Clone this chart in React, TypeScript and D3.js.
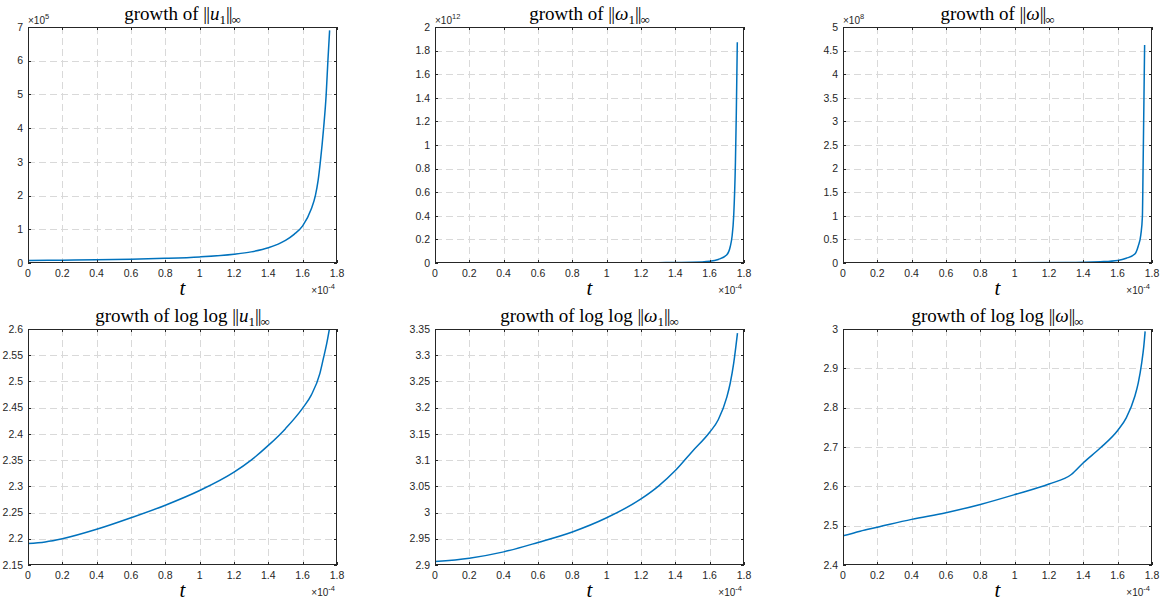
import React from 'react';
import * as d3 from 'd3';

// ---------- data (t in units of 1e-4) ----------
const xTicks = [0, 0.2, 0.4, 0.6, 0.8, 1, 1.2, 1.4, 1.6, 1.8];

// ||u1||_inf (x 1e5)
const tU1 = [0, 0.2, 0.4, 0.6, 0.8, 1.0, 1.2, 1.3, 1.4, 1.5, 1.55, 1.6, 1.65, 1.674, 1.69, 1.703, 1.722, 1.737, 1.747, 1.757];
const vU1 = [0.076, 0.083, 0.095, 0.112, 0.138, 0.18, 0.26, 0.33, 0.45, 0.67, 0.85, 1.1, 1.6, 2.0, 2.45, 3.0, 4.0, 5.0, 6.0, 6.9];
const yTicksU1 = [0, 1, 2, 3, 4, 5, 6, 7];

// ||omega1||_inf (x 1e12)
const tW1 = [0, 0.5, 1.0, 1.3, 1.5, 1.6, 1.65, 1.7, 1.72, 1.73, 1.74, 1.75, 1.755, 1.761];
const vW1 = [0.0001, 0.0003, 0.001, 0.003, 0.0064, 0.015, 0.03, 0.07, 0.14, 0.22, 0.4, 0.85, 1.25, 1.87];
const yTicksW1 = [0, 0.2, 0.4, 0.6, 0.8, 1, 1.2, 1.4, 1.6, 1.8, 2];

// ||omega||_inf (x 1e8)
const tW = [0, 0.5, 1.0, 1.3, 1.5, 1.6, 1.65, 1.7, 1.72, 1.735, 1.744, 1.748, 1.753, 1.757];
const vW = [0.0014, 0.0027, 0.0053, 0.009, 0.028, 0.055, 0.1, 0.19, 0.36, 0.6, 0.98, 2.0, 3.45, 4.62];
const yTicksW = [0, 0.5, 1, 1.5, 2, 2.5, 3, 3.5, 4, 4.5, 5];

// log log ||u1||_inf
const tLU1 = [0, 0.1, 0.2, 0.4, 0.6, 0.8, 1.0, 1.2, 1.3, 1.4, 1.5, 1.6, 1.65, 1.7, 1.72, 1.74, 1.758];
const vLU1 = [2.191, 2.194, 2.200, 2.218, 2.240, 2.264, 2.292, 2.327, 2.350, 2.378, 2.410, 2.449, 2.474, 2.515, 2.543, 2.572, 2.604];
const yTicksLU1 = [2.15, 2.2, 2.25, 2.3, 2.35, 2.4, 2.45, 2.5, 2.55, 2.6];

// log log ||omega1||_inf
const tLW1 = [0, 0.2, 0.4, 0.6, 0.8, 1.0, 1.2, 1.3, 1.4, 1.5, 1.6, 1.65, 1.7, 1.72, 1.74, 1.752, 1.762];
const vLW1 = [2.9065, 2.913, 2.925, 2.943, 2.963, 2.990, 3.026, 3.050, 3.080, 3.117, 3.153, 3.177, 3.220, 3.247, 3.285, 3.315, 3.342];
const yTicksLW1 = [2.9, 2.95, 3, 3.05, 3.1, 3.15, 3.2, 3.25, 3.3, 3.35];

// log log ||omega||_inf
const tLW = [0, 0.1, 0.2, 0.4, 0.6, 0.8, 1.0, 1.2, 1.33, 1.4, 1.5, 1.6, 1.65, 1.7, 1.72, 1.74, 1.752, 1.76];
const vLW = [2.474, 2.486, 2.496, 2.516, 2.533, 2.554, 2.579, 2.606, 2.630, 2.660, 2.698, 2.742, 2.774, 2.829, 2.863, 2.914, 2.955, 2.994];
const yTicksLW = [2.4, 2.5, 2.6, 2.7, 2.8, 2.9, 3];

// ---------- layout ----------
const W = 1169, H = 602;
const colLeft = [28, 435, 843];
const rowTop = [27, 329];
const PW = 309, PH = 236;

const BLUE = '#0072BD';
const AX = '#262626';
const GRID = '#d9d9d9';
const SANS = '"Liberation Sans", Arial, Helvetica, sans-serif';
const SERIF = '"Liberation Serif", "Times New Roman", serif';

type Panel = {
  t: number[]; v: number[]; yTicks: number[]; exp: string | null;
  log: boolean; sym: string; sub: boolean; col: number; row: number;
};

const panels: Panel[] = [
  { t: tU1, v: vU1, yTicks: yTicksU1, exp: '5', log: false, sym: 'u', sub: true, col: 0, row: 0 },
  { t: tW1, v: vW1, yTicks: yTicksW1, exp: '12', log: false, sym: 'ω', sub: true, col: 1, row: 0 },
  { t: tW, v: vW, yTicks: yTicksW, exp: '8', log: false, sym: 'ω', sub: false, col: 2, row: 0 },
  { t: tLU1, v: vLU1, yTicks: yTicksLU1, exp: null, log: true, sym: 'u', sub: true, col: 0, row: 1 },
  { t: tLW1, v: vLW1, yTicks: yTicksLW1, exp: null, log: true, sym: 'ω', sub: true, col: 1, row: 1 },
  { t: tLW, v: vLW, yTicks: yTicksLW, exp: null, log: true, sym: 'ω', sub: false, col: 2, row: 1 },
];

const fmt = (d: number) => String(+d.toFixed(4));

function PanelView({ p, i }: { p: Panel; i: number }) {
  const L = colLeft[p.col], T = rowTop[p.row];
  const R = L + PW, B = T + PH;
  const x = d3.scaleLinear().domain([0, 1.8]).range([L, R]);
  const y = d3.scaleLinear().domain([p.yTicks[0], p.yTicks[p.yTicks.length - 1]]).range([B, T]);
  const pts = p.t.map((t, k) => [t, p.v[k]] as [number, number]);
  const line = d3.line<[number, number]>().x(d => x(d[0])).y(d => y(d[1])).curve(d3.curveMonotoneX);
  const cx = (L + R) / 2;
  const clipId = `clip${i}`;
  const tl = 3;
  return (
    <g>
      <defs>
        <clipPath id={clipId}><rect x={L} y={T} width={PW} height={PH} /></clipPath>
      </defs>
      {xTicks.slice(1, -1).map(t => (
        <line key={'gx' + t} x1={Math.round(x(t)) + 0.5} x2={Math.round(x(t)) + 0.5} y1={T} y2={B}
          stroke={GRID} strokeWidth={1} strokeDasharray="7,4" />
      ))}
      {p.yTicks.slice(1, -1).map(v => (
        <line key={'gy' + v} x1={L} x2={R} y1={Math.round(y(v)) + 0.5} y2={Math.round(y(v)) + 0.5}
          stroke={GRID} strokeWidth={1} strokeDasharray="7,4" />
      ))}
      <path d={line(pts) || ''} fill="none" stroke={BLUE} strokeWidth={1.5} clipPath={`url(#${clipId})`} />
      <rect x={L + 0.5} y={T + 0.5} width={PW - 1} height={PH - 1} fill="none" stroke={AX} strokeWidth={1} />
      {xTicks.map(t => {
        const xx = Math.round(x(t)) + 0.5;
        return (
          <g key={'tx' + t}>
            <line x1={xx} x2={xx} y1={B} y2={B - tl} stroke={AX} />
            <line x1={xx} x2={xx} y1={T} y2={T + tl} stroke={AX} />
            <text x={x(t)} y={B + 14} textAnchor="middle" fontFamily={SANS} fontSize={10.5} fill={AX}>{fmt(t)}</text>
          </g>
        );
      })}
      {p.yTicks.map(v => {
        const yy = Math.round(y(v)) + 0.5;
        return (
          <g key={'ty' + v}>
            <line x1={L} x2={L + tl} y1={yy} y2={yy} stroke={AX} />
            <line x1={R} x2={R - tl} y1={yy} y2={yy} stroke={AX} />
            <text x={L - 5} y={y(v) + 3.7} textAnchor="end" fontFamily={SANS} fontSize={10.5} fill={AX}>{fmt(v)}</text>
          </g>
        );
      })}
      <text x={R - 2} y={B + 31} textAnchor="end" fontFamily={SANS} fontSize={10} fill={AX}>
        <tspan>×10</tspan><tspan fontSize={7.5} dy={-5}>-4</tspan>
      </text>
      {p.exp && (
        <text x={L} y={T - 3} textAnchor="start" fontFamily={SANS} fontSize={10} fill={AX}>
          <tspan>×10</tspan><tspan fontSize={7.5} dy={-5}>{p.exp}</tspan>
        </text>
      )}
      <text x={cx} y={B + 32} textAnchor="middle" fontFamily={SERIF} fontStyle="italic" fontSize={21} fill="#000">t</text>
      <text x={cx} y={T - 7} textAnchor="middle" fontFamily={SERIF} fontSize={19} fill="#000">
        <tspan>growth of </tspan>
        {p.log && <tspan>log log </tspan>}
        <tspan letterSpacing={-1}>||</tspan>
        <tspan fontStyle="italic" dx={1}>{p.sym}</tspan>
        {p.sub && <tspan fontSize={13} dy={3.5}>1</tspan>}
        <tspan dy={p.sub ? -3.5 : 0} letterSpacing={-1}>||</tspan>
        <tspan fontSize={13} dy={3.5}>∞</tspan>
      </text>
    </g>
  );
}

export default function App() {
  return (
    <svg width={W} height={H} style={{ position: 'absolute', left: 0, top: 0, background: '#fff' }}>
      <rect x={0} y={0} width={W} height={H} fill="#fff" />
      {panels.map((p, i) => <PanelView key={i} p={p} i={i} />)}
    </svg>
  );
}
